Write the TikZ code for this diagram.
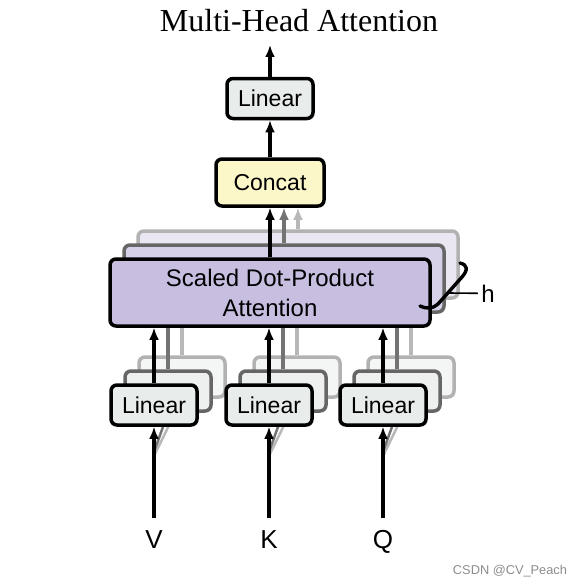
\documentclass[tikz,border=0pt]{standalone}
\usepackage{fontspec}
\setmainfont{Liberation Serif}
\setsansfont{Liberation Sans}
\usetikzlibrary{arrows.meta}

% Colores de las cajas
\definecolor{linfill}{RGB}{232,236,234}
\definecolor{catfill}{RGB}{251,247,200}
\definecolor{attfill}{RGB}{199,190,224}
\definecolor{attfillB}{RGB}{214,208,233}
\definecolor{attfillC}{RGB}{234,231,243}
\definecolor{linfillB}{RGB}{237,240,239}
\definecolor{linfillC}{RGB}{244,246,245}

% Capas para las copias de las cabezas
\pgfdeclarelayer{headC}
\pgfdeclarelayer{headB}
\pgfsetlayers{headC,headB,main}

\tikzset{
  blk/.style={draw=black, line width=3.5pt, rounded corners=6pt, align=center,
    inner sep=0pt, font=\sffamily\fontsize{23}{30}\selectfont},
  linsize/.style={minimum width=86pt, minimum height=40pt},
  attsize/.style={minimum width=320pt, minimum height=67pt},
  arr/.style={line width=3.2pt, -{Latex[length=12pt,width=10pt]}},
  ghostB/.style={blk, draw=black!60},
  ghostC/.style={blk, draw=black!30},
  lbl/.style={font=\sffamily\fontsize{26}{30}\selectfont, anchor=base}
}

\begin{document}
\begin{tikzpicture}[x=1pt,y=-1pt]
    % Marco de la figura
    \useasboundingbox (0,0) rectangle (581,586);

    % Titulo
    \node[anchor=base, font=\fontsize{32}{36}\selectfont] (title) at (299,32) {Multi-Head Attention};

    % Cajas de la cabeza principal
    \node[blk, linsize, fill=linfill] (top) at (270,98.5) {Linear};
    \node[blk, minimum width=108pt, minimum height=47pt, fill=catfill] (concat) at (270,182.5) {Concat};
    \node[blk, attsize, fill=attfill, font=\sffamily\fontsize{24}{30}\selectfont] (att) at (270,292.5) {Scaled Dot-Product\\Attention};
    \node[blk, linsize, fill=linfill] (linV) at (154,405) {Linear};
    \node[blk, linsize, fill=linfill] (linK) at (269,405) {Linear};
    \node[blk, linsize, fill=linfill] (linQ) at (383,405) {Linear};

    % Entradas
    \node[lbl] (V) at (154,548) {V};
    \node[lbl] (K) at (269,548) {K};
    \node[lbl] (Q) at (383,548) {Q};
    \coordinate (inV) at (154,518);
    \coordinate (inK) at (269,518);
    \coordinate (inQ) at (383,518);
    \coordinate (out) at (270,45);

    % Flechas de la cabeza principal
    \draw[arr] (inV) -- (linV.south);
    \draw[arr] (inK) -- (linK.south);
    \draw[arr] (inQ) -- (linQ.south);
    \draw[arr] (linV.north) -- (linV.north |- att.south);
    \draw[arr] (linK.north) -- (linK.north |- att.south);
    \draw[arr] (linQ.north) -- (linQ.north |- att.south);
    \draw[arr] (att.north) -- (concat.south);
    \draw[arr] (concat.north) -- (top.south);
    \draw[arr] (top.north) -- (out);

    % Llave con las h cabezas
    \node[lbl, font=\sffamily\fontsize{24}{28}\selectfont] (h) at (488,302) {h};
    \coordinate (brace) at (449,293);
    \draw[line width=3.4pt, line cap=round] (460,263) .. controls (468,265) and (468,270) .. (462,277)
        -- (438,304) .. controls (433,309) and (426,309) .. (420,306);
    \draw[line width=1.6pt] (brace) -- (h.west);

    % Segunda cabeza
    \begin{pgfonlayer}{headB}
        \node[ghostB, attsize, fill=attfillB] (att2) at (284,278.5) {};
        \node[ghostB, linsize, fill=linfillB] (linV2) at (168,391) {};
        \node[ghostB, linsize, fill=linfillB] (linK2) at (283,391) {};
        \node[ghostB, linsize, fill=linfillB] (linQ2) at (397,391) {};
        \draw[arr, color=black!55] (att2.north) -- (att2.north |- concat.south);
        \draw[line width=3.2pt, black!55] (linV2.north) -- (linV2.north |- att.south);
        \draw[line width=3.2pt, black!55] (linK2.north) -- (linK2.north |- att.south);
        \draw[line width=3.2pt, black!55] (linQ2.north) -- (linQ2.north |- att.south);
        \draw[line width=2.5pt, black!55] (154,452) -- (linV2.south);
        \draw[line width=2.5pt, black!55] (269,452) -- (linK2.south);
        \draw[line width=2.5pt, black!55] (383,452) -- (linQ2.south);
    \end{pgfonlayer}

    % Tercera cabeza
    \begin{pgfonlayer}{headC}
        \node[ghostC, attsize, fill=attfillC] (att3) at (298,264.5) {};
        \node[ghostC, linsize, fill=linfillC] (linV3) at (182,377) {};
        \node[ghostC, linsize, fill=linfillC] (linK3) at (297,377) {};
        \node[ghostC, linsize, fill=linfillC] (linQ3) at (411,377) {};
        \draw[arr, color=black!28] (att3.north) -- (att3.north |- concat.south);
        \draw[line width=3.2pt, black!28] (linV3.north) -- (linV3.north |- att.south);
        \draw[line width=3.2pt, black!28] (linK3.north) -- (linK3.north |- att.south);
        \draw[line width=3.2pt, black!28] (linQ3.north) -- (linQ3.north |- att.south);
        \draw[line width=2.5pt, black!28] (154,456) -- (linV3.south);
        \draw[line width=2.5pt, black!28] (269,456) -- (linK3.south);
        \draw[line width=2.5pt, black!28] (383,456) -- (linQ3.south);
    \end{pgfonlayer}

    % Marca de agua
    \node[text=black!45, font=\sffamily\fontsize{12.8}{14}\selectfont] (mark) at (510,571) {CSDN @CV\_Peach};
\end{tikzpicture}
\end{document}
